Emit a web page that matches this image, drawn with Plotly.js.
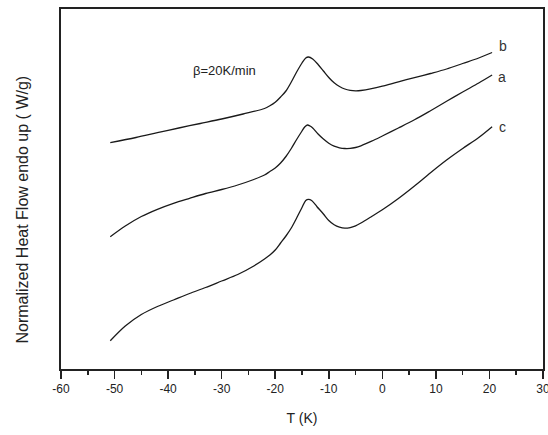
<!DOCTYPE html>
<html>
<head>
<meta charset="utf-8">
<script src="https://cdn.plot.ly/plotly-3.0.1.min.js"></script>
<style>
  html, body { margin: 0; padding: 0; background: #fff; }
  #plot { width: 548px; height: 435px; }
</style>
</head>
<body>
<div id="plot"></div>
<script>
// DSC heating curves at 20 K/min, three samples (a, b, c)
const tempA = [-50.8,-48,-45,-42,-39,-36,-33,-30,-27,-24,-22,-21,-20,-19,-18,-17,-16,-15,-14.5,-14,-13.5,-13,-12,-11,-10,-9,-8,-7,-6,-5,-4,-2,0,3,6,9,12,15,18,20.5];
const flowA = [1.323,1.43,1.525,1.597,1.657,1.707,1.755,1.795,1.84,1.895,1.94,1.975,2.01,2.06,2.125,2.205,2.295,2.38,2.42,2.44,2.43,2.41,2.35,2.30,2.258,2.228,2.212,2.205,2.206,2.215,2.232,2.278,2.33,2.41,2.492,2.583,2.677,2.77,2.86,2.94];

const tempB = [-50.8,-46,-42,-38,-34,-30,-26,-22,-21,-20,-19,-18,-17,-16,-15,-14.3,-13.8,-13,-12,-11,-10,-9,-8,-7,-6,-5,-4,-2,0,3,6,9,12,15,18,20.5];
const flowB = [2.263,2.315,2.363,2.41,2.455,2.50,2.55,2.605,2.632,2.667,2.72,2.78,2.87,2.97,3.06,3.11,3.12,3.10,3.045,2.98,2.915,2.862,2.825,2.80,2.787,2.782,2.785,2.803,2.828,2.872,2.913,2.955,3.00,3.055,3.11,3.165];

const tempC = [-50.8,-48,-45,-42,-39,-36,-33,-30,-27,-24,-22,-21,-20,-19,-18,-17,-16,-15,-14.3,-13.8,-13.2,-12.2,-11,-10,-9,-8,-7,-6,-5,-4,-2,0,3,6,9,12,15,18,20.5];
const flowC = [0.283,0.43,0.545,0.625,0.69,0.755,0.815,0.88,0.945,1.03,1.10,1.14,1.19,1.26,1.33,1.41,1.51,1.615,1.685,1.697,1.685,1.623,1.55,1.485,1.442,1.418,1.408,1.414,1.432,1.46,1.525,1.592,1.705,1.83,1.963,2.09,2.205,2.315,2.423];

const curveNames = ['a', 'b', 'c'];
const tickValues = [-60,-50,-40,-30,-20,-10,0,10,20,30];
const tickLabels = ['-60','-50','-40','-30','-20','-10','0','10','20','30'];
const rateLabel = 'β=20K/min';

const series = [
  {x: tempA, y: flowA},
  {x: tempB, y: flowB},
  {x: tempC, y: flowC}
];

const traces = series.map((s, i) => ({
  x: s.x, y: s.y, name: curveNames[i],
  type: 'scatter', mode: 'lines',
  line: {color: '#1a1a1a', width: 1.3, shape: 'spline', smoothing: 0.9},
  hoverinfo: 'skip'
}));

// curve labels placed just beyond each curve's last point
const labelShift = [{dx: 10, dy: -2}, {dx: 11, dy: 7}, {dx: 10, dy: 0}];
const annotations = series.map((s, i) => ({
  x: s.x[s.x.length - 1], y: s.y[s.y.length - 1],
  xref: 'x', yref: 'y', text: curveNames[i], showarrow: false,
  xanchor: 'center', yanchor: 'middle',
  xshift: labelShift[i].dx, yshift: labelShift[i].dy,
  font: {family: 'Liberation Sans, Arial, sans-serif', size: 14, color: '#333'}
}));

// heating-rate note, positioned in pixels inside the plot frame
const plotLeft = 61, plotBottom = 369, plotW = 482, plotH = 360;
annotations.push({
  x: (224 - plotLeft) / plotW, y: (plotBottom - 61) / plotH,
  xref: 'paper', yref: 'paper', text: rateLabel, showarrow: false,
  font: {family: 'Liberation Sans, Arial, sans-serif', size: 13, color: '#222'}
});

// y-axis title as a rotated annotation so it sits slightly below centre
annotations.push({
  xref: 'paper', yref: 'paper', x: (21.5 - plotLeft) / plotW, y: (plotBottom - 210) / plotH,
  xanchor: 'center', yanchor: 'middle', textangle: -90, showarrow: false,
  text: 'Normalized Heat Flow endo up ( W/g)',
  font: {family: 'Liberation Sans, Arial, sans-serif', size: 16, color: '#222'}
});

const layout = {
  width: 548, height: 435,
  margin: {l: 61, r: 5, t: 9, b: 66, pad: 0},
  paper_bgcolor: '#fff', plot_bgcolor: '#fff',
  showlegend: false,
  font: {family: 'Liberation Sans, Arial, sans-serif', color: '#222'},
  xaxis: {
    range: [-60, 30], tickvals: tickValues, ticktext: tickLabels,
    ticks: 'outside', ticklen: 8, tickwidth: 1.5, tickcolor: '#222',
    minor: {dtick: 5, ticks: 'outside', ticklen: 4, tickwidth: 1.5, tickcolor: '#222', showgrid: false},
    showline: true, mirror: true, linecolor: '#222', linewidth: 2,
    showgrid: false, zeroline: false,
    ticklabeloverflow: 'allow',
    tickfont: {size: 12, color: '#222'},
    title: {text: 'T (K)', font: {size: 14, color: '#222'}, standoff: 18},
    automargin: false
  },
  yaxis: {
    range: [0, 3.6], showticklabels: false, ticks: '',
    showline: true, mirror: true, linecolor: '#222', linewidth: 2,
    showgrid: false, zeroline: false, automargin: false
  },
  annotations: annotations
};

Plotly.newPlot('plot', traces, layout, {displayModeBar: false, staticPlot: true});
</script>
</body>
</html>
